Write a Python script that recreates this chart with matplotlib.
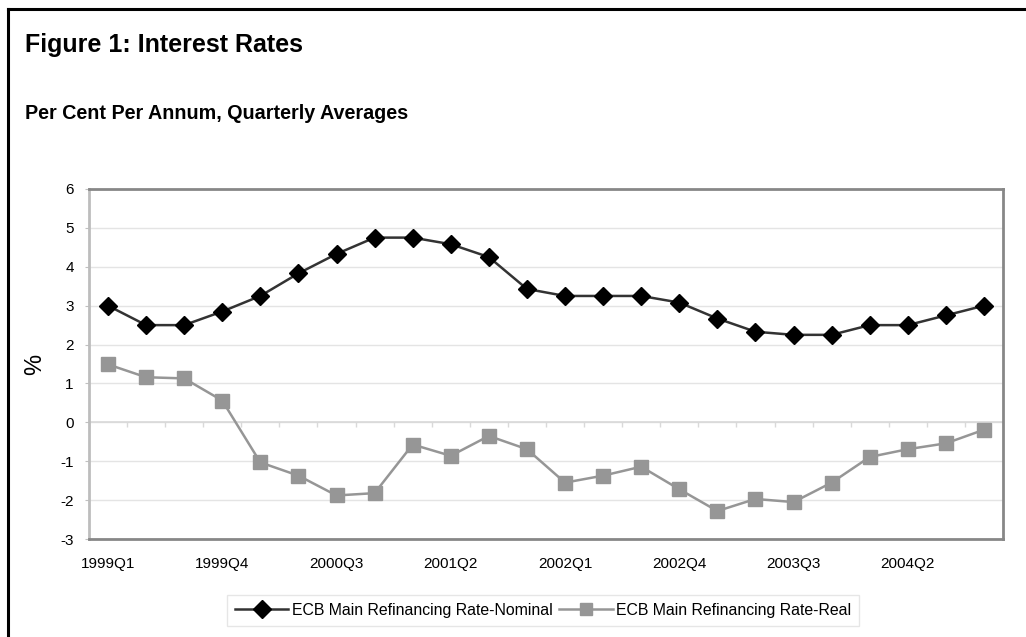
import numpy as np
import matplotlib
matplotlib.use("Agg")
import matplotlib.pyplot as plt
from matplotlib.lines import Line2D

plt.rcParams['font.family'] = ['Liberation Sans', 'DejaVu Sans']
plt.rcParams['axes.unicode_minus'] = False

# data
quarters = [f"{y}Q{q}" for y in range(1999, 2005) for q in range(1, 5)]
nominal = [3.0, 2.5, 2.5, 2.85, 3.25, 3.83, 4.33, 4.75,
           4.75, 4.58, 4.25, 3.43, 3.25, 3.25, 3.25, 3.08,
           2.67, 2.33, 2.25, 2.25, 2.5, 2.5, 2.75, 3.0]
real = [1.49, 1.16, 1.13, 0.56, -1.03, -1.37, -1.88, -1.82,
        -0.57, -0.86, -0.35, -0.69, -1.55, -1.37, -1.14, -1.72,
        -2.28, -1.97, -2.05, -1.55, -0.89, -0.69, -0.54, -0.19]
label_step = 3

fig = plt.figure(figsize=(10.26, 6.37), dpi=100)
ax = fig.add_axes([0.0867, 0.1538, 0.8909, 0.5495])

x = np.arange(len(quarters))

# grid + zero axis line with category tick marks
for yv in range(-3, 7):
    ax.axhline(yv, color='#e4e4e4', lw=1.0, zorder=0)
ax.axhline(0, color='#d9d9d9', lw=1.2, zorder=1)
ax.vlines(np.arange(len(quarters) + 1) - 0.5, -0.13, 0, color='#d9d9d9', lw=1.0, zorder=1)

ax.plot(x, nominal, color='#333333', lw=1.8, marker='D', ms=9.5,
        mfc='black', mec='black', zorder=3, label='ECB Main Refinancing Rate-Nominal')
ax.plot(x, real, color='#969696', lw=1.8, marker='s', ms=9.5,
        mfc='#969696', mec='#969696', zorder=3, label='ECB Main Refinancing Rate-Real')

ax.set_xlim(-0.5, len(quarters) - 0.5)
ax.set_ylim(-3, 6)
ax.set_yticks(range(-3, 7))
ax.set_xticks(x[::label_step])
ax.set_xticklabels(quarters[::label_step])
ax.tick_params(axis='x', length=0, pad=13, labelsize=11)
ax.tick_params(axis='y', length=3, color='#c0c0c0', pad=8, labelsize=11)
ax.set_ylabel('%', fontsize=17, va='center')
ax.yaxis.set_label_coords(-0.059, 0.5)

for s in ['top', 'bottom', 'right']:
    ax.spines[s].set_color('#878787')
    ax.spines[s].set_linewidth(2.0)
ax.spines['left'].set_color('#bdbdbd')
ax.spines['left'].set_linewidth(2.0)

h, l = ax.get_legend_handles_labels()
leg = fig.legend(h, l, loc='center', bbox_to_anchor=(0.529, 0.042), ncol=2,
                 fontsize=11.4, frameon=True, fancybox=False, handlelength=3.4,
                 columnspacing=0.4, handletextpad=0.2, borderpad=0.5, markerscale=0.95)
leg.get_frame().set_edgecolor('#e0e0e0')
leg.get_frame().set_linewidth(1.0)

fig.text(0.024, 0.929, 'Figure 1: Interest Rates', fontsize=18, fontweight='bold', va='center')
fig.text(0.024, 0.822, 'Per Cent Per Annum, Quarterly Averages', fontsize=14.2, fontweight='bold', va='center')

# partial outer frame (top and left edges)
fig.add_artist(Line2D([0.0078, 1.0], [0.986, 0.986], color='black', lw=2.2, transform=fig.transFigure))
fig.add_artist(Line2D([0.0078, 0.0078], [0.0, 0.986], color='black', lw=2.2, transform=fig.transFigure))

fig.savefig('out.png', dpi=100)
